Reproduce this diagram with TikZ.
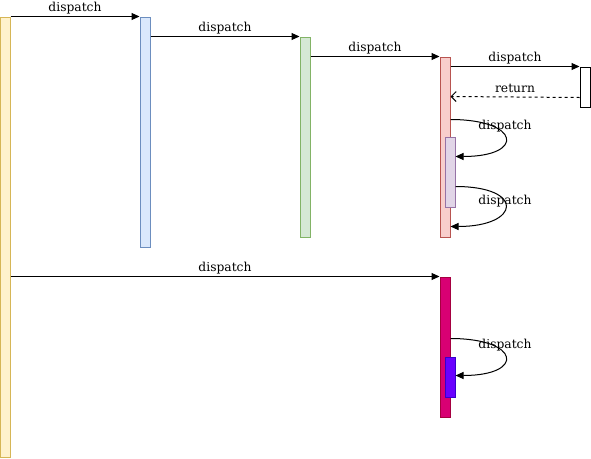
\documentclass[tikz,border=0pt]{standalone}
\usepackage{fontspec}
\setmainfont{DejaVu Serif}
\usetikzlibrary{arrows.meta}
\definecolor{yfill}{HTML}{FFF2CC}\definecolor{ydraw}{HTML}{D6B656}
\definecolor{bfill}{HTML}{DAE8FC}\definecolor{bdraw}{HTML}{6C8EBF}
\definecolor{gfill}{HTML}{D5E8D4}\definecolor{gdraw}{HTML}{82B366}
\definecolor{rfill}{HTML}{F8CECC}\definecolor{rdraw}{HTML}{B85450}
\definecolor{pfill}{HTML}{E1D5E7}\definecolor{pdraw}{HTML}{9673A6}
\definecolor{mfill}{HTML}{D80073}\definecolor{mdraw}{HTML}{A50040}
\definecolor{vfill}{HTML}{6A00FF}\definecolor{vdraw}{HTML}{3700CC}
\begin{document}
\begin{tikzpicture}[x=1pt,y=-1pt,
  bar/.style={draw, line width=1pt, inner sep=0pt, minimum width=10pt},
  arr/.style={line width=1pt, -{Triangle[length=8pt,width=7pt]}},
  ret/.style={line width=1pt, dashed, dash pattern=on 3pt off 3pt, -{Straight Barb[length=5pt,width=10pt]}},
  lbl/.style={font=\fontsize{12.3pt}{14pt}\selectfont, inner sep=0pt}]
\useasboundingbox (0,0) rectangle (591,458);
\node[bar, fill=yfill, draw=ydraw, minimum height=440pt] (ya) at (5,237) {};
\node[bar, fill=bfill, draw=bdraw, minimum height=230pt] (bl) at (145,132) {};
\node[bar, fill=gfill, draw=gdraw, minimum height=200pt] (gr) at (305,137) {};
\node[bar, fill=rfill, draw=rdraw, minimum height=180pt] (rd) at (445,147) {};
\node[bar, fill=white, draw=black, minimum height=40pt] (wh) at (585,87) {};
\node[bar, fill=pfill, draw=pdraw, minimum height=70pt] (pu) at (450,172) {};
\node[bar, fill=mfill, draw=mdraw, minimum height=140pt] (mg) at (445,347) {};
\node[bar, fill=vfill, draw=vdraw, minimum height=40pt] (vi) at (450,377) {};

\draw[arr] (ya.north east) -- (bl.north west);
\draw[arr] ([yshift=-20pt]bl.north east) -- (gr.north west);
\draw[arr] ([yshift=-20pt]gr.north east) -- (rd.north west);
\draw[arr] ([yshift=-10pt]rd.north east) -- (wh.north west);
\draw[ret] ([yshift=10pt]wh.south west) -- ([yshift=-40pt]rd.north east);
\draw[arr] ([yshift=-63pt]rd.north east) .. controls +(70,0) and +(70,0) .. ([yshift=-20pt]pu.north east);
\draw[arr] ([yshift=-50pt]pu.north east) .. controls +(70,0) and +(70,0) .. ([yshift=11pt]rd.south east);
\draw[arr] ([yshift=-260pt]ya.north east) -- (mg.north west);
\draw[arr] ([yshift=-62pt]mg.north east) .. controls +(70,0) and +(70,0) .. ([yshift=-19pt]vi.north east);

\node[lbl] (l1) at (75,8) {dispatch};
\node[lbl] (l2) at (225,28) {dispatch};
\node[lbl] (l3) at (375,48) {dispatch};
\node[lbl] (l4) at (515,58) {dispatch};
\node[lbl] (l5) at (515,88) {return};
\node[lbl] (l6) at (505,126) {dispatch};
\node[lbl] (l7) at (505,201) {dispatch};
\node[lbl] (l8) at (225,268) {dispatch};
\node[lbl] (l9) at (505,345) {dispatch};
\end{tikzpicture}
\end{document}
